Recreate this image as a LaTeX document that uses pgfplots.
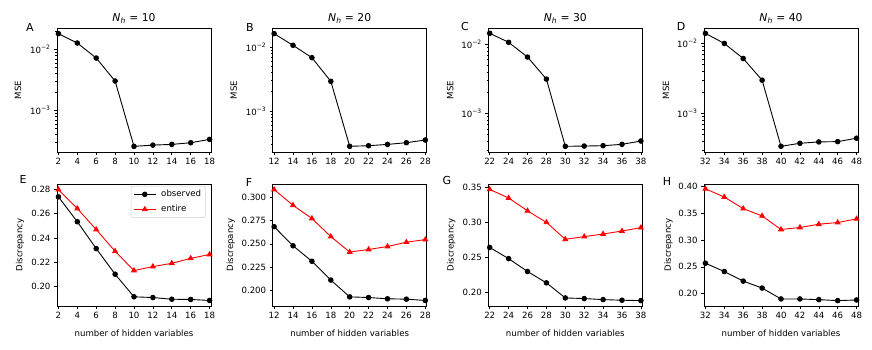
\documentclass[border=0pt]{standalone}
\usepackage{fontspec}
\setmainfont{DejaVu Sans}
\usepackage{pgfplots}
\pgfplotsset{compat=1.18}
\pgfplotsset{
  panel/.style={
    scale only axis, width=154pt,
    axis line style={black, line width=0.6pt},
    tick style={black, line width=0.6pt},
    tick align=outside, major tick length=3pt, minor tick length=1.8pt,
    xtick pos=bottom, ytick pos=left,
    tick label style={font=\fontsize{8.6}{10}\selectfont, /pgf/number format/assume math mode=true},
    label style={font=\fontsize{8.6}{10}\selectfont},
    title style={font=\fontsize{10.8}{12}\selectfont, at={(axis description cs:0.5,1)}, anchor=base, yshift=0.5pt},
    xtick distance=2,
  },
  msepanel/.style={panel, height=124pt,
    ytick={1e-3,1e-2}, yticklabels={10\textsuperscript{−3},10\textsuperscript{−2}},
    minor ytick={2e-4,3e-4,4e-4,5e-4,6e-4,7e-4,8e-4,9e-4,2e-3,3e-3,4e-3,5e-3,6e-3,7e-3,8e-3,9e-3,2e-2,3e-2},
    ylabel={MSE},
  },
  dispanel/.style={panel, height=122pt, ylabel={Discrepancy}, xlabel={number of hidden variables},
    xlabel style={at={(axis description cs:0.5,0)}, anchor=center, yshift=-27pt},
    yticklabel style={/pgf/number format/fixed, /pgf/number format/fixed zerofill, /pgf/number format/precision=2}},
  obs/.style={black, line width=0.9pt, mark=*, mark size=2.3pt},
  ent/.style={red, line width=0.9pt, mark=triangle*, mark size=2.7pt},
}
\begin{document}
\begin{tikzpicture}[x=1pt,y=1pt]
\useasboundingbox (0,0) rectangle (872,350);
% ---------- top row ----------
\begin{axis}[ymode=log, msepanel, at={(57pt,198pt)}, anchor=south west,
  xmin=1.85, xmax=18.15, ymin=2.08e-4, ymax=0.0224,
  title={\textit{N}\textsubscript{\textit{h}} = 10},
  ylabel style={at={(axis description cs:-0.253,0.5)}, anchor=center}]
\addplot[obs] coordinates {(2,0.0181) (4,0.01271) (6,0.00721) (8,0.00303) (10,2.57e-4) (12,2.70e-4) (14,2.77e-4) (16,2.95e-4) (18,3.35e-4)};
\end{axis}
\begin{axis}[ymode=log, msepanel, at={(272.7pt,198pt)}, anchor=south west,
  xmin=11.85, xmax=28.15, ymin=2.29e-4, ymax=0.0198,
  title={\textit{N}\textsubscript{\textit{h}} = 20},
  ylabel style={at={(axis description cs:-0.253,0.5)}, anchor=center}]
\addplot[obs] coordinates {(12,0.01615) (14,0.01062) (16,0.00681) (18,0.00291) (20,2.81e-4) (22,2.87e-4) (24,3.01e-4) (26,3.20e-4) (28,3.52e-4)};
\end{axis}
\begin{axis}[ymode=log, msepanel, at={(488.3pt,198pt)}, anchor=south west,
  xmin=21.85, xmax=38.15, ymin=2.79e-4, ymax=0.0172,
  title={\textit{N}\textsubscript{\textit{h}} = 30},
  ylabel style={at={(axis description cs:-0.247,0.5)}, anchor=center}]
\addplot[obs] coordinates {(22,0.01442) (24,0.01069) (26,0.00655) (28,0.00315) (30,3.37e-4) (32,3.40e-4) (34,3.44e-4) (36,3.60e-4) (38,4.02e-4)};
\end{axis}
\begin{axis}[ymode=log, msepanel, at={(704pt,198pt)}, anchor=south west,
  xmin=31.85, xmax=48.15, ymin=2.83e-4, ymax=0.0166,
  title={\textit{N}\textsubscript{\textit{h}} = 40},
  ylabel style={at={(axis description cs:-0.247,0.5)}, anchor=center}]
\addplot[obs] coordinates {(32,0.0139) (34,0.0100) (36,0.00610) (38,0.00299) (40,3.41e-4) (42,3.77e-4) (44,3.94e-4) (46,3.98e-4) (48,4.45e-4)};
\end{axis}
% ---------- bottom row ----------
\begin{axis}[dispanel, at={(57pt,44pt)}, anchor=south west,
  xmin=1.85, xmax=18.15, ymin=0.1837, ymax=0.2846,
  ytick={0.20,0.22,0.24,0.26,0.28},
  ylabel style={at={(axis description cs:-0.24,0.5)}, anchor=center},
  legend style={at={(axis description cs:0.965,0.985)}, anchor=north east, draw=gray!35, rounded corners=2pt, line width=0.6pt, font=\fontsize{8.6}{10}\selectfont, inner sep=2.2pt, row sep=3pt, column sep=3pt},
  legend image code/.code={\draw[mark repeat=2, mark phase=2, #1] plot coordinates {(0pt,0pt) (11pt,0pt) (22pt,0pt)};},
  legend cell align=left]
\addplot[obs] coordinates {(2,0.2740) (4,0.2534) (6,0.2312) (8,0.2100) (10,0.1913) (12,0.1907) (14,0.1893) (16,0.1891) (18,0.1883)};
\addlegendentry{observed}
\addplot[ent] coordinates {(2,0.2800) (4,0.2643) (6,0.2469) (8,0.2290) (10,0.2130) (12,0.2163) (14,0.2190) (16,0.2231) (18,0.2263)};
\addlegendentry{entire}
\end{axis}
\begin{axis}[dispanel, at={(272.7pt,44pt)}, anchor=south west,
  xmin=11.85, xmax=28.15, ymin=0.1826, ymax=0.3149,
  ytick={0.200,0.225,0.250,0.275,0.300},
  yticklabel style={/pgf/number format/precision=3},
  ylabel style={at={(axis description cs:-0.273,0.5)}, anchor=center}]
\addplot[obs] coordinates {(12,0.2686) (14,0.2479) (16,0.2311) (18,0.2107) (20,0.1925) (22,0.1918) (24,0.1904) (26,0.1900) (28,0.1886)};
\addplot[ent] coordinates {(12,0.3089) (14,0.2918) (16,0.2775) (18,0.2579) (20,0.2411) (22,0.2439) (24,0.2471) (26,0.2518) (28,0.2546)};
\end{axis}
\begin{axis}[dispanel, at={(488.3pt,44pt)}, anchor=south west,
  xmin=21.85, xmax=38.15, ymin=0.1800, ymax=0.3554,
  ytick={0.20,0.25,0.30,0.35},
  ylabel style={at={(axis description cs:-0.24,0.5)}, anchor=center}]
\addplot[obs] coordinates {(22,0.2642) (24,0.2481) (26,0.2296) (28,0.2133) (30,0.1916) (32,0.1907) (34,0.1892) (36,0.1883) (38,0.1878)};
\addplot[ent] coordinates {(22,0.3476) (24,0.3353) (26,0.3168) (28,0.3002) (30,0.2759) (32,0.2797) (34,0.2835) (36,0.2878) (38,0.2926)};
\end{axis}
\begin{axis}[dispanel, at={(704pt,44pt)}, anchor=south west,
  xmin=31.85, xmax=48.15, ymin=0.1771, ymax=0.4040,
  ytick={0.20,0.25,0.30,0.35,0.40},
  ylabel style={at={(axis description cs:-0.23,0.5)}, anchor=center}]
\addplot[obs] coordinates {(32,0.2566) (34,0.2412) (36,0.2234) (38,0.2105) (40,0.1902) (42,0.1902) (44,0.1889) (46,0.1871) (48,0.1883)};
\addplot[ent] coordinates {(32,0.3951) (34,0.3797) (36,0.3582) (38,0.3446) (40,0.3194) (42,0.3231) (44,0.3292) (46,0.3323) (48,0.3391)};
\end{axis}
% panel letters
\node[font=\fontsize{11}{13}\selectfont] at (30,322.5) {A};
\node[font=\fontsize{11}{13}\selectfont] at (250,323) {B};
\node[font=\fontsize{11}{13}\selectfont] at (465,323.5) {C};
\node[font=\fontsize{11}{13}\selectfont] at (681,323.5) {D};
\node[font=\fontsize{11}{13}\selectfont] at (23,171) {E};
\node[font=\fontsize{11}{13}\selectfont] at (249,168) {F};
\node[font=\fontsize{11}{13}\selectfont] at (447,169) {G};
\node[font=\fontsize{11}{13}\selectfont] at (667,169) {H};
\end{tikzpicture}
\end{document}
